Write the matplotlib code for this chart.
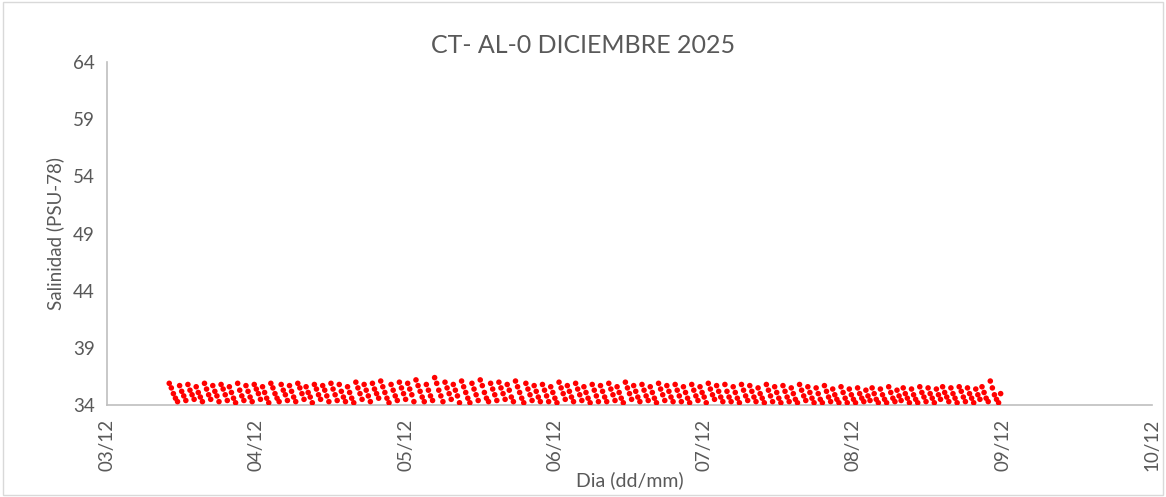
import pandas as pd
import matplotlib.pyplot as plt
import matplotlib.dates as mdates
from matplotlib.patches import Rectangle

plt.rcParams['font.family'] = ['Lato', 'DejaVu Sans']

# Salinity readings, every 20 min from 03/12/2025 10:00
salinidad = [
    35.9, 35.5, 35.0, 34.6, 34.3, 35.7, 35.2, 34.8, 34.4, 35.8, 35.3, 34.9, 34.5, 35.6, 35.1, 34.7, 34.3, 35.9,
    35.4, 34.9, 34.5, 35.7, 35.2, 34.8, 34.3, 35.8, 35.4, 34.9, 34.4, 35.6, 35.1, 34.6, 34.2, 35.9, 35.3, 34.8,
    34.4, 35.7, 35.2, 34.7, 34.3, 35.8, 35.4, 35.0, 34.5, 35.6, 35.1, 34.6, 34.2, 35.9, 35.5, 35.0, 34.6, 34.3,
    35.8, 35.3, 34.9, 34.4, 35.7, 35.2, 34.7, 34.3, 35.9, 35.5, 35.0, 34.5, 35.6, 35.1, 34.7, 34.2, 35.8, 35.4,
    34.9, 34.5, 35.7, 35.3, 34.8, 34.3, 35.9, 35.4, 34.9, 34.4, 35.8, 35.2, 34.7, 34.3, 35.6, 35.1, 34.6, 34.2,
    36.0, 35.5, 35.0, 34.5, 35.8, 35.3, 34.8, 34.3, 35.9, 35.4, 35.0, 34.6, 36.1, 35.6, 35.1, 34.6, 34.2, 35.8,
    35.3, 34.8, 34.4, 36.0, 35.5, 35.0, 34.5, 35.9, 35.4, 34.9, 34.3, 36.2, 35.7, 35.2, 34.7, 34.3, 35.8, 35.3,
    34.8, 34.4, 36.4, 35.9, 35.3, 34.8, 34.3, 36.0, 35.5, 35.0, 34.5, 35.8, 35.3, 34.8, 34.2, 36.1, 35.6, 35.1,
    34.6, 34.2, 35.9, 35.4, 34.9, 34.4, 36.2, 35.7, 35.1, 34.6, 34.3, 35.9, 35.4, 34.9, 34.4, 36.0, 35.5, 35.0,
    34.5, 35.8, 35.3, 34.7, 34.3, 36.1, 35.6, 35.1, 34.6, 34.2, 35.9, 35.4, 34.9, 34.4, 35.7, 35.2, 34.7, 34.3,
    35.8, 35.3, 34.8, 34.3, 35.6, 35.1, 34.6, 34.2, 36.0, 35.5, 35.0, 34.5, 35.7, 35.2, 34.7, 34.3, 35.9, 35.4,
    34.9, 34.4, 35.6, 35.1, 34.6, 34.2, 35.8, 35.3, 34.8, 34.3, 35.7, 35.2, 34.7, 34.3, 35.9, 35.4, 34.9, 34.4,
    35.6, 35.1, 34.6, 34.2, 36.0, 35.5, 35.0, 34.5, 35.7, 35.2, 34.7, 34.3, 35.8, 35.3, 34.8, 34.4, 35.6, 35.1,
    34.6, 34.2, 35.9, 35.4, 34.9, 34.4, 35.7, 35.2, 34.7, 34.3, 35.8, 35.3, 34.8, 34.3, 35.6, 35.1, 34.6, 34.2,
    35.8, 35.3, 34.8, 34.4, 35.6, 35.1, 34.7, 34.2, 35.9, 35.4, 34.9, 34.5, 35.7, 35.2, 34.7, 34.3, 35.8, 35.2,
    34.7, 34.3, 35.6, 35.1, 34.6, 34.2, 35.8, 35.3, 34.8, 34.4, 35.7, 35.2, 34.7, 34.3, 35.5, 35.0, 34.6, 34.2,
    35.8, 35.3, 34.8, 34.3, 35.6, 35.1, 34.6, 34.2, 35.7, 35.2, 34.7, 34.3, 35.5, 35.0, 34.5, 34.2, 35.8, 35.3,
    34.8, 34.4, 35.6, 35.1, 34.6, 34.2, 35.5, 35.0, 34.5, 34.2, 35.7, 35.2, 34.7, 34.3, 35.4, 34.9, 34.5, 34.2,
    35.6, 35.1, 34.6, 34.2, 35.4, 34.9, 34.5, 34.2, 35.5, 35.0, 34.6, 34.3, 35.3, 34.8, 34.4, 35.5, 35.0, 34.5,
    34.2, 35.4, 34.9, 34.5, 34.2, 35.6, 35.1, 34.6, 34.3, 35.3, 34.8, 34.4, 35.5, 35.0, 34.6, 34.2, 35.4, 34.9,
    34.5, 34.2, 35.6, 35.1, 34.7, 34.3, 35.5, 35.0, 34.6, 34.2, 35.4, 34.9, 34.5, 35.6, 35.1, 34.7, 34.3, 35.5,
    35.0, 34.6, 34.2, 35.6, 35.2, 34.7, 34.3, 35.5, 35.0, 34.6, 34.2, 35.4, 34.9, 34.5, 35.6, 35.1, 34.6, 34.3,
    36.1, 35.5, 34.9, 34.5, 34.2, 35.0,
]

tiempo = pd.date_range("2025-12-03 10:00", periods=len(salinidad), freq="20min")

dias = pd.date_range("2025-12-03", "2025-12-10", freq="D")

fig = plt.figure(figsize=(11.66, 4.97), dpi=100)
ax = fig.add_axes([0.0918, 0.185, 0.8962, 0.69])

ax.scatter(tiempo, salinidad, s=16, c='#ff0000', edgecolors='none', zorder=3)

ax.set_ylim(34, 64)
ax.set_yticks(range(34, 65, 5))
ax.set_xlim(dias[0], dias[-1])
ax.set_xticks(dias)
ax.xaxis.set_major_formatter(mdates.DateFormatter('%d/%m'))

for side in ['top', 'right']:
    ax.spines[side].set_visible(False)
for side in ['left', 'bottom']:
    ax.spines[side].set_color('#bfbfbf')
    ax.spines[side].set_linewidth(1.2)

ax.tick_params(axis='both', length=0, colors='#595959', labelsize=13.5, pad=9)
ax.tick_params(axis='x', rotation=90, pad=10)

# title centred on the whole figure, like the Excel chart
fig.text(0.5, 0.909, "CT- AL-0 DICIEMBRE 2025", fontsize=18, color='#595959',
         ha='center', va='center')
ax.set_xlabel("Dia (dd/mm)", fontsize=14, color='#595959', labelpad=0)
ax.set_ylabel("Salinidad (PSU-78)", fontsize=13.5, color='#595959', labelpad=6)

fig.patches.append(Rectangle((0.003, 0.004), 0.994, 0.992, transform=fig.transFigure,
                             fill=False, edgecolor='#d9d9d9', linewidth=1))

fig.savefig("out.png", dpi=100)
